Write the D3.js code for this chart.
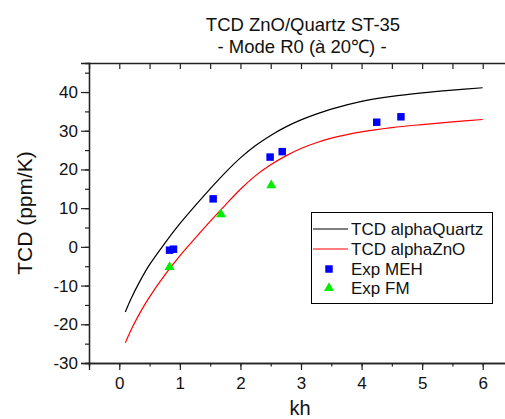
<!DOCTYPE html>
<html>
<head>
<meta charset="utf-8">
<script src="https://cdn.jsdelivr.net/npm/d3@7"></script>
<style>
  html, body { margin: 0; padding: 0; background: #fff; }
  svg { display: block; font-family: "Liberation Sans", Arial, Helvetica, sans-serif; }
</style>
</head>
<body>
<svg id="chart" width="505" height="419"></svg>
<script>
// ---- data ----
const curveX = [0.1, 0.2, 0.35, 0.5, 0.75, 1.0, 1.25, 1.5, 1.75, 2.0, 2.25, 2.5, 2.75, 3.0, 3.25, 3.5, 4.0, 4.5, 5.0, 5.5, 6.0];
const tcdQuartz = [-16.8, -13.2, -8.6, -4.6, 0.9, 6.0, 10.6, 15.0, 19.2, 23.0, 26.2, 28.8, 31.0, 32.8, 34.3, 35.6, 37.6, 38.9, 39.8, 40.5, 41.1];
const tcdZnO = [-24.8, -21.3, -16.8, -12.9, -7.3, -2.3, 2.2, 6.6, 10.8, 14.9, 18.4, 21.2, 23.5, 25.4, 26.9, 28.1, 29.7, 30.8, 31.6, 32.3, 32.9];
const mehX = [0.83, 0.895, 1.55, 2.49, 2.69, 4.25, 4.65];
const mehY = [-0.85, -0.6, 12.4, 23.2, 24.6, 32.2, 33.6];
const fmX = [0.83, 1.68, 2.51];
const fmY = [-5.2, 8.4, 15.9];
const xTicks = [0, 1, 2, 3, 4, 5, 6];
const yTicks = [-30, -20, -10, 0, 10, 20, 30, 40];
const legendLabels = ["TCD alphaQuartz", "TCD alphaZnO", "Exp MEH", "Exp FM"];
const titleLines = ["TCD ZnO/Quartz ST-35", "- Mode R0 (à 20\u2103) -"];

const svg = d3.select("#chart");
const x = d3.scaleLinear().domain([-0.5, 6.5]).range([89, 513]);
const y = d3.scaleLinear().domain([-30, 47.5]).range([363, 63]);
const axisColor = "#222";
const fmt = d => String(d);

// plot clip
svg.append("defs").append("clipPath").attr("id", "clip")
  .append("rect").attr("x", 89).attr("y", 63).attr("width", 424).attr("height", 300);

// curves
const line = d3.line().x((d, i) => x(curveX[i])).y(d => y(d)).curve(d3.curveCatmullRom.alpha(0.5));
const plot = svg.append("g").attr("clip-path", "url(#clip)");
plot.append("path").datum(tcdQuartz).attr("d", line)
  .attr("fill", "none").attr("stroke", "#000").attr("stroke-width", 1.2);
plot.append("path").datum(tcdZnO).attr("d", line)
  .attr("fill", "none").attr("stroke", "#ff0000").attr("stroke-width", 1.2);

// scatter
const sq = d3.symbol().type(d3.symbolSquare).size(56);
const tri = d3.symbol().type(d3.symbolTriangle).size(44);
plot.selectAll(".meh").data(mehX).enter().append("path")
  .attr("d", sq).attr("fill", "#0000ff")
  .attr("transform", (d, i) => `translate(${x(d)},${y(mehY[i])})`);
plot.selectAll(".fm").data(fmX).enter().append("path")
  .attr("d", tri).attr("fill", "#00ee00")
  .attr("transform", (d, i) => `translate(${x(d)},${y(fmY[i])})`);

// axes
const minorX = d3.range(-0.5, 6.51, 0.5);
const minorY = d3.range(-30, 46, 5);

// bottom axis
const bottomAxis = svg.append("g").attr("transform", "translate(0,363)");
bottomAxis.call(d3.axisBottom(x).tickValues(minorX).tickSize(3.5).tickFormat(""));
bottomAxis.append("g").call(d3.axisBottom(x).tickValues(xTicks).tickSize(7).tickFormat(fmt));
bottomAxis.selectAll(".domain").attr("stroke", axisColor).attr("stroke-width", 1.3);
bottomAxis.selectAll("line").attr("stroke", axisColor).attr("stroke-width", 1.2);
bottomAxis.selectAll("text").attr("font-size", 17).attr("fill", "#111").attr("dy", "0.95em");

// top axis (inward ticks)
const topAxis = svg.append("g").attr("transform", "translate(0,63)");
topAxis.call(d3.axisBottom(x).tickValues(minorX.filter(v => v > -0.5)).tickSize(6).tickFormat(""));
topAxis.selectAll(".domain").attr("stroke", axisColor).attr("stroke-width", 1.3);
topAxis.selectAll("line").attr("stroke", axisColor).attr("stroke-width", 1.2);

// left axis
const leftAxis = svg.append("g").attr("transform", "translate(89,0)");
leftAxis.call(d3.axisLeft(y).tickValues(minorY).tickSize(4).tickFormat(""));
leftAxis.append("g").call(d3.axisLeft(y).tickValues(yTicks).tickSize(8).tickPadding(3).tickFormat(fmt));
leftAxis.selectAll(".domain").attr("stroke", axisColor).attr("stroke-width", 1.3);
leftAxis.selectAll("line").attr("stroke", axisColor).attr("stroke-width", 1.2);
leftAxis.selectAll("text").attr("font-size", 17).attr("fill", "#111");

// axis titles
svg.append("text").attr("x", 300).attr("y", 415).attr("text-anchor", "middle")
  .attr("font-size", 20).attr("fill", "#111").text("kh");
svg.append("text").attr("transform", "translate(32,213) rotate(-90)").attr("text-anchor", "middle")
  .attr("font-size", 21).attr("fill", "#111").text("TCD (ppm/K)");

// title
svg.append("text").attr("x", 303).attr("y", 31).attr("text-anchor", "middle")
  .attr("font-size", 18.5).attr("fill", "#111").text(titleLines[0]);
svg.append("text").attr("x", 302).attr("y", 53).attr("text-anchor", "middle")
  .attr("font-size", 18.5).attr("fill", "#111").text(titleLines[1]);

// legend
const lg = svg.append("g");
lg.append("rect").attr("x", 311.5).attr("y", 212.5).attr("width", 181).attr("height", 91)
  .attr("fill", "#fff").attr("stroke", "#000").attr("stroke-width", 1);
const rowY = [229, 249, 269, 288];
lg.append("line").attr("x1", 313).attr("x2", 348).attr("y1", rowY[0]).attr("y2", rowY[0])
  .attr("stroke", "#000").attr("stroke-width", 1.2);
lg.append("line").attr("x1", 313).attr("x2", 348).attr("y1", rowY[1]).attr("y2", rowY[1])
  .attr("stroke", "#ff0000").attr("stroke-width", 1.2);
lg.append("path").attr("d", sq).attr("fill", "#0000ff").attr("transform", `translate(329,${rowY[2]})`);
lg.append("path").attr("d", tri).attr("fill", "#00ee00").attr("transform", `translate(329,${rowY[3]})`);
lg.selectAll(".lt").data(legendLabels).enter().append("text")
  .attr("x", 351).attr("y", (d, i) => rowY[i]).attr("dy", "0.36em")
  .attr("font-size", 17).attr("fill", "#111").text(d => d);
</script>
</body>
</html>
